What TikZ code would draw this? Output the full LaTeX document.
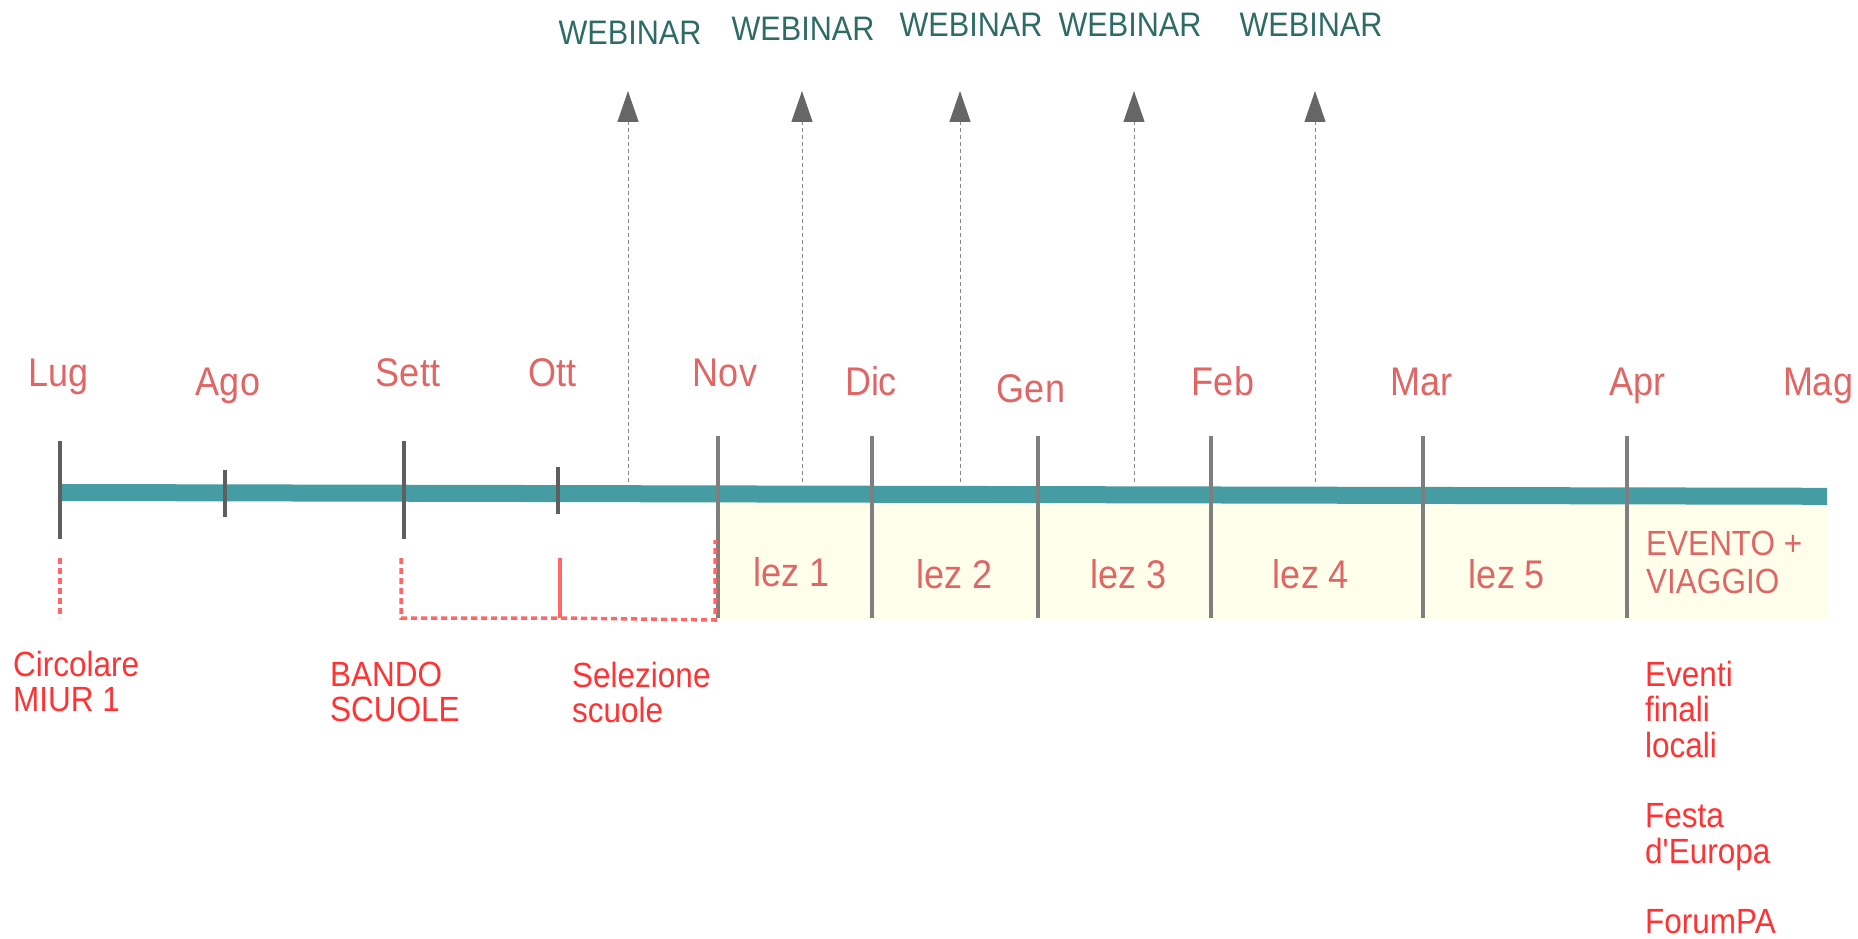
\documentclass[tikz,border=0pt]{standalone}
\usepackage{fontspec}
\newfontfamily\lf{Liberation Sans}[FakeStretch=0.9]
\usetikzlibrary{arrows.meta}
\definecolor{barteal}{RGB}{69,157,163}
\definecolor{tickdark}{RGB}{95,95,95}
\definecolor{ticklight}{RGB}{127,127,127}
\definecolor{paleyellow}{RGB}{255,255,235}
\definecolor{salmon}{RGB}{224,102,102}
\definecolor{brightred}{RGB}{255,51,51}
\definecolor{redline}{RGB}{255,102,102}
\definecolor{webteal}{RGB}{46,107,102}
\definecolor{headgrey}{RGB}{102,102,102}
\definecolor{dashgrey}{RGB}{136,136,136}
\begin{document}
\begin{tikzpicture}[x=1pt,y=-1pt,
  month/.style={anchor=base, inner sep=0, font=\lf\fontsize{40}{46}\selectfont, text=salmon},
  lez/.style={anchor=base, inner sep=0, font=\lf\fontsize{40}{46}\selectfont, text=salmon},
  web/.style={anchor=base, inner sep=0, font=\lf\fontsize{34}{40}\selectfont, text=webteal},
  note/.style={anchor=north west, inner sep=0, align=left, font=\lf\fontsize{35}{35.3}\selectfont, text=brightred},
  evento/.style={anchor=north west, inner sep=0, align=left, font=\lf\fontsize{35}{38}\selectfont, text=salmon},
  majortick/.style={draw=tickdark, line width=3.5pt},
  minortick/.style={draw=tickdark, line width=3.5pt},
  lesstick/.style={draw=ticklight, line width=3.5pt},
  webline/.style={draw=dashgrey, line width=1pt, dash pattern=on 4pt off 3pt,
    -{Triangle[length=31pt,width=21pt,color=headgrey,fill=headgrey]}},
  reddash/.style={draw=redline, line width=3.5pt, dash pattern=on 6pt off 4pt},
  redsolid/.style={draw=redline, line width=3.5pt}
]
\useasboundingbox (0,0) rectangle (1858,939);

% lesson area
\fill[paleyellow] (718,500) rectangle (1827,619);

% main bar
\coordinate (barL) at (62,492.5);
\coordinate (barR) at (1827,496.3);
\draw[barteal, line width=17pt] (barL) -- (barR);

% ticks
\coordinate (tLug1) at (60,441);  \coordinate (tLug2) at (60,539);
\coordinate (tAgo1) at (225,470); \coordinate (tAgo2) at (225,517);
\coordinate (tSet1) at (404,441); \coordinate (tSet2) at (404,539);
\coordinate (tOtt1) at (558,467); \coordinate (tOtt2) at (558,514);
\draw[majortick] (tLug1) -- (tLug2);
\draw[minortick] (tAgo1) -- (tAgo2);
\draw[majortick] (tSet1) -- (tSet2);
\draw[minortick] (tOtt1) -- (tOtt2);
\foreach \n/\x in {Nov/718,Dic/872,Gen/1038,Feb/1211,Mar/1423,Apr/1627}{
  \coordinate (t\n1) at (\x,436);
  \coordinate (t\n2) at (\x,618);
  \draw[lesstick] (t\n1) -- (t\n2);
}

% month labels
\node[month] (mLug) at (59,386) {Lug};
\node[month] (mAgo) at (228,395) {Ago};
\node[month] (mSet) at (408,386) {Sett};
\node[month] (mOtt) at (552,386) {Ott};
\node[month] (mNov) at (725,386) {Nov};
\node[month] (mDic) at (871,395) {Dic};
\node[month] (mGen) at (1031,402) {Gen};
\node[month] (mFeb) at (1223,395) {Feb};
\node[month] (mMar) at (1421,395) {Mar};
\node[month] (mApr) at (1637,395) {Apr};
\node[month] (mMag) at (1818,395) {Mag};

% webinars
\node[web] (w1) at (630,45) {WEBINAR};
\node[web] (w2) at (803,41) {WEBINAR};
\node[web] (w3) at (971,37) {WEBINAR};
\node[web] (w4) at (1130,37) {WEBINAR};
\node[web] (w5) at (1311,37) {WEBINAR};
\foreach \i/\x in {1/628,2/802,3/960,4/1134,5/1315}{
  \coordinate (wb\i) at (\x,482);
  \coordinate (wt\i) at (\x,91);
  \draw[webline] (wb\i) -- (wt\i);
}

% lessons
\node[lez] (l1) at (792,586) {lez 1};
\node[lez] (l2) at (955,588) {lez 2};
\node[lez] (l3) at (1129,588) {lez 3};
\node[lez] (l4) at (1311,588) {lez 4};
\node[lez] (l5) at (1507,588) {lez 5};
\node[evento] (ev) at (1646,531) {EVENTO +\\VIAGGIO};

% red connectors
\coordinate (rLug1) at (60,558);  \coordinate (rLug2) at (60,618);
\coordinate (rSet1) at (401,558); \coordinate (rSet2) at (401,618);
\coordinate (rOtt1) at (560,558); \coordinate (rOtt2) at (560,618);
\coordinate (rNov1) at (715,540); \coordinate (rNov2) at (715,620);
\draw[reddash] (rLug1) -- (rLug2);
\draw[reddash] (rSet1) -- (rSet2) -- (rOtt2) -- (rNov2) -- (rNov1);
\draw[redsolid] (rOtt1) -- (rOtt2);

% lower notes
\node[note] (n1) at (13,651) {Circolare\\MIUR 1};
\node[note] (n2) at (330,662) {BANDO\\SCUOLE};
\node[note] (n3) at (572,662) {Selezione\\scuole};
\node[note] (n4) at (1645,661) {Eventi\\finali\\locali\\[35.3pt]Festa\\d'Europa\\[35.3pt]ForumPA};
\end{tikzpicture}
\end{document}
